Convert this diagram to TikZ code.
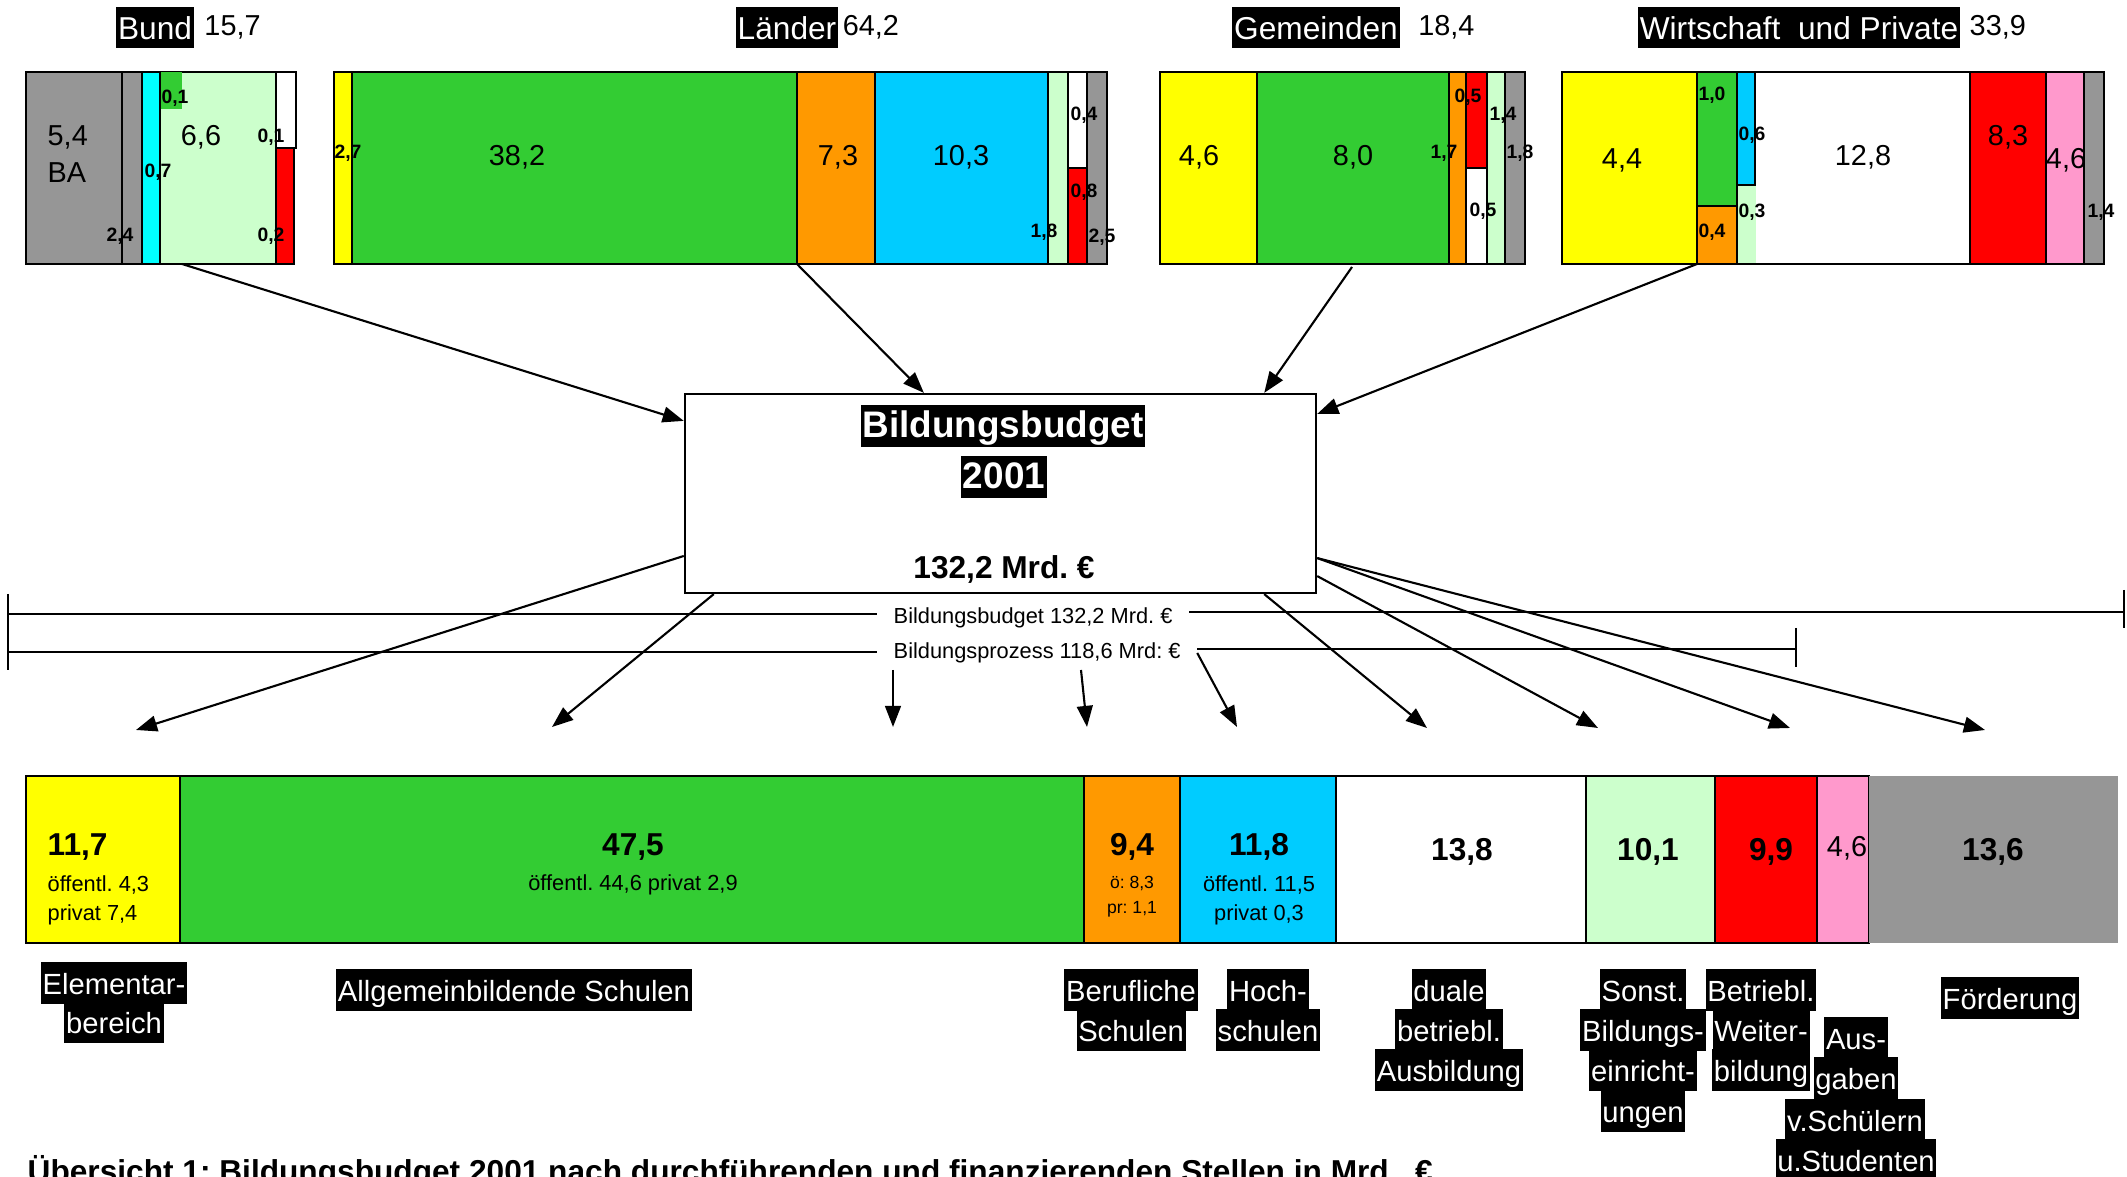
\documentclass[tikz,border=0pt]{standalone}
\usepackage{fontspec}
\setmainfont{Liberation Sans}
\usetikzlibrary{positioning,arrows.meta}
\frenchspacing
\definecolor{cYellow}{HTML}{FFFF00}
\definecolor{cGreen}{HTML}{33CC33}
\definecolor{cOrange}{HTML}{FF9900}
\definecolor{cCyan}{HTML}{00CCFF}
\definecolor{cAqua}{HTML}{00FFFF}
\definecolor{cLight}{HTML}{CCFFCC}
\definecolor{cRed}{HTML}{FF0000}
\definecolor{cPink}{HTML}{FF99CC}
\definecolor{cGray}{HTML}{969696}

\begin{document}
\begin{tikzpicture}[x=0.01cm, y=-0.01cm,
    seg/.style={draw, line width=0.75pt},
    lowseg/.style={draw, line width=0.5pt},
    big/.style={inner sep=0pt, font=\fontsize{8.2}{9}\selectfont},
    sm/.style={inner sep=0pt, font=\fontsize{5.5}{6}\selectfont\bfseries},
    head/.style={fill=black, text=white, inner xsep=0.6pt, inner ysep=0.3pt, text height=0.9em, text depth=0.22em, font=\fontsize{9}{10}\selectfont},
    cat/.style={fill=black, text=white, inner xsep=0.5pt, inner ysep=0.3pt, text height=0.9em, text depth=0.22em, font=\fontsize{8.3}{9}\selectfont},
    num/.style={inner sep=0pt, font=\fontsize{9}{10}\selectfont\bfseries},
    detail/.style={inner sep=0pt, font=\fontsize{6.2}{7}\selectfont},
    minor/.style={inner sep=0pt, font=\fontsize{5}{6}\selectfont},
    flow/.style={line width=0.6pt, -{Triangle[length=6pt,width=4.5pt]}},
    meas/.style={line width=0.7pt}]
    \useasboundingbox (0,0) rectangle (2127,1177);

    \node[head] (bund) at (155,27.5) {Bund};
    \node[big, right=0.09cm of bund] (bundVal) {15,7};
    \node[head] (laender) at (787,27.5) {Länder};
    \node[big, right=0.03cm of laender] (laenderVal) {64,2};
    \node[head] (gemeinden) at (1316,27.5) {Gemeinden};
    \node[big, right=0.17cm of gemeinden] (gemeindenVal) {18,4};
    \node[head] (wirtschaft) at (1799,27.5) {Wirtschaft\ \ und Private};
    \node[big, right=0.08cm of wirtschaft] (wirtschaftVal) {33,9};

    \draw[seg, fill=cGray] (26,72) rectangle (122,264);
    \draw[seg, fill=cGray] (122,72) rectangle (142,264);
    \draw[seg, fill=cAqua] (142,72) rectangle (160,264);
    \draw[seg, fill=cLight] (160,72) rectangle (276,264);
    \fill[cGreen] (161,72) rectangle (182,109);
    \draw[seg, fill=white] (276,72) rectangle (296,148);
    \draw[seg, fill=cRed] (276,148) rectangle (294,264);
    \node[big, anchor=west] (bund54) at (47,137) {5,4};
    \node[big, anchor=west] (bundBA) at (47,173) {BA};
    \node[sm] (bund24) at (120,236) {2,4};
    \node[sm] (bund01a) at (175,98) {0,1};
    \node[big] (bund66) at (201,137) {6,6};
    \node[sm] (bund07) at (158,172) {0,7};
    \node[sm] (bund01b) at (271,137) {0,1};
    \node[sm] (bund02) at (271,236) {0,2};

    \draw[seg, fill=cYellow] (334,72) rectangle (352,264);
    \draw[seg, fill=cGreen] (352,72) rectangle (797,264);
    \draw[seg, fill=cOrange] (797,72) rectangle (875,264);
    \draw[seg, fill=cCyan] (875,72) rectangle (1048,264);
    \draw[seg, fill=cLight] (1048,72) rectangle (1068,264);
    \draw[seg, fill=white] (1068,72) rectangle (1087,168);
    \draw[seg, fill=cRed] (1068,168) rectangle (1087,264);
    \draw[seg, fill=cGray] (1087,72) rectangle (1107,264);
    \node[sm] (laender27) at (348,153) {2,7};
    \node[big] (laender382) at (517,157) {38,2};
    \node[big] (laender73) at (838,157) {7,3};
    \node[big] (laender103) at (961,157) {10,3};
    \node[sm] (laender04) at (1084,115) {0,4};
    \node[sm] (laender08) at (1084,192) {0,8};
    \node[sm] (laender18) at (1044,232) {1,8};
    \node[sm] (laender25) at (1102,237) {2,5};

    \draw[seg, fill=cYellow] (1160,72) rectangle (1257,264);
    \draw[seg, fill=cGreen] (1257,72) rectangle (1449,264);
    \draw[seg, fill=cOrange] (1449,72) rectangle (1466,264);
    \draw[seg, fill=cRed] (1466,72) rectangle (1487,168);
    \draw[seg, fill=white] (1466,168) rectangle (1487,264);
    \draw[seg, fill=cLight] (1487,72) rectangle (1505,264);
    \draw[seg, fill=cGray] (1505,72) rectangle (1525,264);
    \node[big] (gem46) at (1199,157) {4,6};
    \node[big] (gem80) at (1353,157) {8,0};
    \node[sm] (gem05a) at (1468,97) {0,5};
    \node[sm] (gem14) at (1503,115) {1,4};
    \node[sm] (gem17) at (1444,153) {1,7};
    \node[sm] (gem18) at (1520,153) {1,8};
    \node[sm] (gem05b) at (1483,211) {0,5};

    \draw[seg, fill=cYellow] (1562,72) rectangle (1697,264);
    \draw[seg, fill=cGreen] (1697,72) rectangle (1737,206);
    \draw[seg, fill=cOrange] (1697,206) rectangle (1737,264);
    \draw[seg, fill=white] (1737,72) rectangle (1970,264);
    \draw[seg, fill=cCyan] (1737,72) rectangle (1755,185);
    \fill[cLight] (1738,186) rectangle (1756,263);
    \draw[seg, fill=cRed] (1970,72) rectangle (2046,264);
    \draw[seg, fill=cPink] (2046,72) rectangle (2084,264);
    \draw[seg, fill=cGray] (2084,72) rectangle (2104,264);
    \node[big] (wir44) at (1622,160) {4,4};
    \node[sm] (wir10) at (1712,95) {1,0};
    \node[sm] (wir06) at (1752,135) {0,6};
    \node[sm] (wir03) at (1752,212) {0,3};
    \node[sm] (wir04) at (1712,232) {0,4};
    \node[big] (wir128) at (1863,157) {12,8};
    \node[big] (wir83) at (2008,137) {8,3};
    \node[big] (wir46) at (2066,160) {4,6};
    \node[sm] (wir14) at (2101,212) {1,4};

    \node[draw, line width=0.6pt, minimum width=6.31cm, minimum height=1.99cm] (budget) at (1000.5,493.5) {};
    \node[fill=black, text=white, inner sep=0.5pt, text height=0.9em, text depth=0.22em, font=\fontsize{10.5}{12}\selectfont\bfseries] (budgetTitle) at (1003,426) {Bildungsbudget};
    \node[fill=black, text=white, inner sep=0.5pt, text height=0.9em, text depth=0.22em, font=\fontsize{10.5}{12}\selectfont\bfseries] (budgetYear) at (1004,477) {2001};
    \node[num] (budgetSum) at (1004,569) {132,2 Mrd. €};

    \coordinate (bundFoot) at (182,264);
    \coordinate (laenderFoot) at (797,264);
    \coordinate (gemFoot) at (1352,267);
    \coordinate (wirFoot) at (1697,264);
    \draw[flow] (bundFoot) -- ([yshift=-0.28cm]budget.north west);
    \draw[flow] (laenderFoot) -- ([xshift=2.4cm]budget.north west);
    \draw[flow] (gemFoot) -- ([xshift=-0.53cm]budget.north east);
    \draw[flow] (wirFoot) -- ([yshift=-0.21cm]budget.north east);

    \node[anchor=west, inner ysep=0pt, inner xsep=0.16cm, font=\fontsize{6.2}{7}\selectfont] (bb) at (877,618) {Bildungsbudget 132,2 Mrd. €};
    \node[anchor=west, inner ysep=0pt, inner xsep=0.16cm, font=\fontsize{6.2}{7}\selectfont] (bp) at (877,653) {Bildungsprozess 118,6 Mrd: €};
    \coordinate (bbLeft) at (8,614);
    \coordinate (bbRight) at (2124,612);
    \coordinate (bpLeft) at (8,652);
    \coordinate (bpRight) at (1796,649);
    \draw[meas] (8,594) -- (8,670);
    \draw[meas] (2124,590) -- (2124,628);
    \draw[meas] (1796,628) -- (1796,667);
    \draw[meas] (bbLeft) -- (bbLeft -| bb.west);
    \draw[meas] (bbRight -| bb.east) -- (bbRight);
    \draw[meas] (bpLeft) -- (bpLeft -| bp.west);
    \draw[meas] (bpRight -| bp.east) -- (bpRight);

    \coordinate (tipA) at (136,730);
    \coordinate (tipB) at (552,727);
    \coordinate (tipC) at (893,727);
    \coordinate (tipD) at (1087,727);
    \coordinate (tipE) at (1237,727);
    \coordinate (tipF) at (1427,728);
    \coordinate (tipG) at (1598,728);
    \coordinate (tipH) at (1790,728);
    \coordinate (tipI) at (1985,730);
    \coordinate (srcC) at (893,670);
    \coordinate (srcD) at (1081,670);
    \draw[flow] ([yshift=-1.63cm]budget.north west) -- (tipA);
    \draw[flow] ([xshift=0.3cm]budget.south west) -- (tipB);
    \draw[flow] (srcC) -- (tipC);
    \draw[flow] (srcD) -- (tipD);
    \draw[flow] (bp.east) -- (tipE);
    \draw[flow] ([xshift=-0.53cm]budget.south east) -- (tipF);
    \draw[flow] ([yshift=0.18cm]budget.south east) -- (tipG);
    \draw[flow] ([yshift=0.36cm]budget.south east) -- (tipH);
    \draw[flow] ([yshift=0.36cm]budget.south east) -- (tipI);

    \draw[lowseg, fill=cYellow] (26,776) rectangle (180,943);
    \draw[lowseg, fill=cGreen] (180,776) rectangle (1084,943);
    \draw[lowseg, fill=cOrange] (1084,776) rectangle (1180,943);
    \draw[lowseg, fill=cCyan] (1180,776) rectangle (1336,943);
    \draw[lowseg, fill=white] (1336,776) rectangle (1586,943);
    \draw[lowseg, fill=cLight] (1586,776) rectangle (1715,943);
    \draw[lowseg, fill=cRed] (1715,776) rectangle (1817,943);
    \draw[lowseg, fill=cPink] (1817,776) rectangle (1869,943);
    \fill[cGray] (1869,776) rectangle (2118,943);

    \node[num, anchor=west] (elemSum) at (47,847) {11,7};
    \node[detail, anchor=west] (elemPub) at (47,885) {öffentl. 4,3};
    \node[detail, anchor=west] (elemPriv) at (47,915) {privat 7,4};
    \node[num] (allgSum) at (633,847) {47,5};
    \node[detail] (allgSplit) at (633,885) {öffentl. 44,6 privat 2,9};
    \node[num] (berufSum) at (1132,847) {9,4};
    \node[minor] (berufPub) at (1132,883) {ö: 8,3};
    \node[minor] (berufPriv) at (1132,909) {pr: 1,1};
    \node[num] (hochSum) at (1259,847) {11,8};
    \node[detail] (hochPub) at (1259,885) {öffentl. 11,5};
    \node[detail] (hochPriv) at (1259,915) {privat 0,3};
    \node[num] (dualSum) at (1462,852) {13,8};
    \node[num] (sonstSum) at (1648,852) {10,1};
    \node[num] (weiterSum) at (1771,852) {9,9};
    \node[big] (ausgSum) at (1847,848) {4,6};
    \node[num] (foerdSum) at (1993,852) {13,6};

    \node[cat] (elem1) at (114,983) {Elementar-};
    \node[cat] (elem2) at (114,1022) {bereich};
    \node[cat] (allg) at (514,990) {Allgemeinbildende Schulen};
    \node[cat] (beruf1) at (1131,990) {Berufliche};
    \node[cat] (beruf2) at (1131,1030) {Schulen};
    \node[cat] (hoch1) at (1268,990) {Hoch-};
    \node[cat] (hoch2) at (1268,1030) {schulen};
    \node[cat] (dual1) at (1449,990) {duale};
    \node[cat] (dual2) at (1449,1030) {betriebl.};
    \node[cat] (dual3) at (1449,1070) {Ausbildung};
    \node[cat] (sonst1) at (1643,990) {Sonst.};
    \node[cat] (sonst2) at (1643,1030) {Bildungs-};
    \node[cat] (sonst3) at (1643,1070) {einricht-};
    \node[cat] (sonst4) at (1643,1111) {ungen};
    \node[cat] (weiter1) at (1761,990) {Betriebl.};
    \node[cat] (weiter2) at (1761,1030) {Weiter-};
    \node[cat] (weiter3) at (1761,1070) {bildung};
    \node[cat] (ausg1) at (1856,1038) {Aus-};
    \node[cat] (ausg2) at (1856,1078) {gaben};
    \node[cat] (ausg3) at (1855,1120) {v.Schülern};
    \node[cat] (ausg4) at (1856,1160) {u.Studenten};
    \node[cat] (foerd) at (2010,998) {Förderung};

    \node[anchor=base west, inner sep=0pt, font=\fontsize{9}{10}\selectfont\bfseries] (caption) at (27,1183) {Übersicht 1: Bildungsbudget 2001 nach durchführenden und finanzierenden Stellen in Mrd.\ \ €};
\end{tikzpicture}
\end{document}
